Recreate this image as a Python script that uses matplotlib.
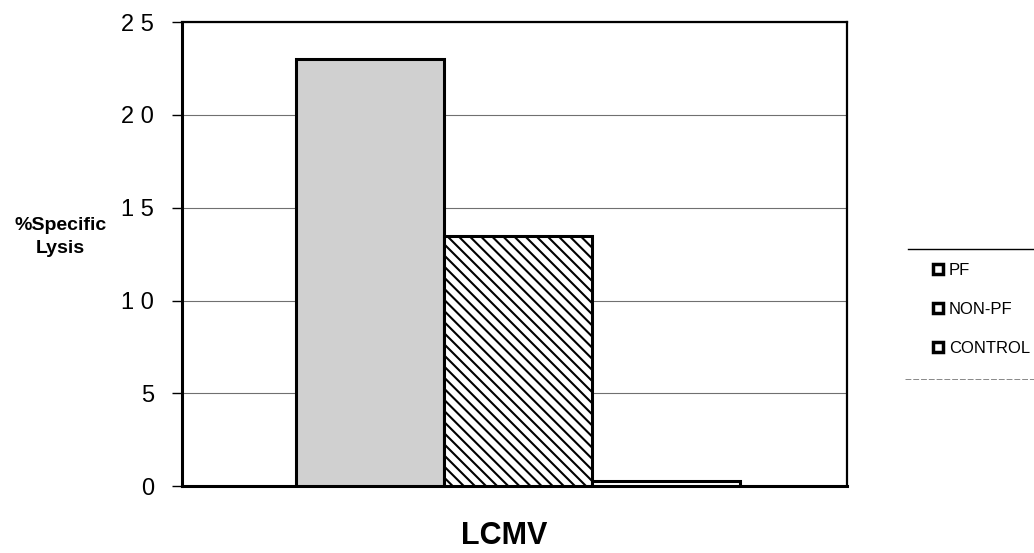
import matplotlib.pyplot as plt
import matplotlib as mpl

# Data
groups = ['PF', 'NON-PF', 'CONTROL']
lysis = [23.0, 13.5, 0.3]
category = 'LCMV'
yticks = [0, 5, 10, 15, 20, 25]
ytick_labels = ['0', '5', '1 0', '1 5', '2 0', '2 5']

mpl.rcParams['font.family'] = ['Liberation Sans', 'DejaVu Sans']
mpl.rcParams['hatch.color'] = '#505050'
mpl.rcParams['hatch.linewidth'] = 1.5

fig = plt.figure(figsize=(10.34, 5.53), dpi=100)
ax = fig.add_axes([0.176, 0.121, 0.643, 0.839])

width = 0.2226
offsets = [-width, 0, width]
faces = ['#d0d0d0', 'white', 'white']
hatches = ['', '\\\\\\', '']
handles = []
for i, g in enumerate(groups):
    b = ax.bar(offsets[i], lysis[i], width=width, color=faces[i], edgecolor='black',
               linewidth=2.2, hatch=hatches[i], label=g, zorder=3)
    handles.append(b)

ax.set_xlim(-0.506, 0.494)
ax.set_ylim(0, 25)
ax.set_yticks(yticks)
ax.set_yticklabels(ytick_labels, fontsize=17)
ax.set_xticks([])
ax.yaxis.grid(True, color='#707070', linewidth=0.8)
ax.tick_params(axis='y', direction='out', length=7, width=1, pad=13)

for side in ['left', 'bottom']:
    ax.spines[side].set_linewidth(2.2)
for side in ['top', 'right']:
    ax.spines[side].set_linewidth(1.6)

ax.set_ylabel('%Specific\nLysis', rotation=0, fontsize=14, fontweight='bold',
              ha='center', va='center', linespacing=1.45)
ax.yaxis.set_label_coords(-0.183, 0.536)
ax.set_xlabel(category, fontsize=22, fontweight='bold', va='center')
ax.xaxis.set_label_coords(0.484, -0.108)

leg = fig.legend(handles=handles, labels=groups, loc='upper left',
                 bbox_to_anchor=(0.902, 0.525), fontsize=12, frameon=False,
                 borderpad=0, borderaxespad=0,
                 handlelength=0.6, handleheight=0.6, labelspacing=1.45,
                 handletextpad=0.36)
for h in leg.legend_handles:
    h.set_hatch('')
    h.set_facecolor('white')
    h.set_edgecolor('black')
    h.set_linewidth(2.5)

# legend separator lines
fig.add_artist(plt.Line2D([0.878, 1.0], [0.55, 0.55], transform=fig.transFigure,
                          color='black', linewidth=1.0))
fig.add_artist(plt.Line2D([0.875, 1.0], [0.315, 0.315], transform=fig.transFigure,
                          color='#888888', linewidth=0.7, linestyle=(0, (6, 2))))

fig.savefig('out.png', dpi=100)
